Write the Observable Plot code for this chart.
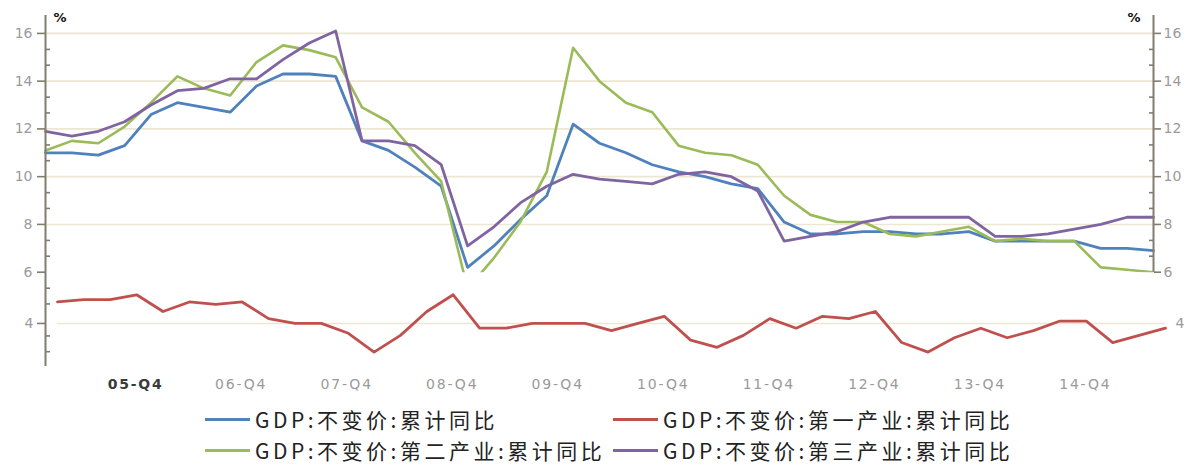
<!DOCTYPE html>
<html><head><meta charset="utf-8">
<script src="https://cdn.jsdelivr.net/npm/d3@7"></script>
<script src="https://cdn.jsdelivr.net/npm/@observablehq/plot@0.6"></script>
<style>
body{margin:0;background:#fff;}
#chart svg{display:block;}
#legend{position:relative;width:1197px;height:74px;font-family:"Noto Sans CJK SC","Noto Sans",sans-serif;font-size:21px;color:#222;}
.item{position:absolute;display:flex;align-items:center;white-space:nowrap;letter-spacing:3.5px;height:26px;}
.sw{width:45px;height:3px;margin-right:5px;}
</style></head><body>
<div id="chart"></div>
<div id="legend"></div>
<script>
// ---- data ----
const quarters = ["05-Q1","05-Q2","05-Q3","05-Q4","06-Q1","06-Q2","06-Q3","06-Q4","07-Q1","07-Q2","07-Q3","07-Q4",
  "08-Q1","08-Q2","08-Q3","08-Q4","09-Q1","09-Q2","09-Q3","09-Q4","10-Q1","10-Q2","10-Q3","10-Q4",
  "11-Q1","11-Q2","11-Q3","11-Q4","12-Q1","12-Q2","12-Q3","12-Q4","13-Q1","13-Q2","13-Q3","13-Q4",
  "14-Q1","14-Q2","14-Q3","14-Q4","15-Q1","15-Q2","15-Q3"];
const seriesNames = ["GDP:不变价:累计同比","GDP:不变价:第一产业:累计同比","GDP:不变价:第二产业:累计同比","GDP:不变价:第三产业:累计同比"];
const seriesColors = ["#4f81bd","#c0504d","#9bbb59","#8064a2"];
const gdpTotal = [11.0,11.0,10.9,11.3, 12.6,13.1,12.9,12.7, 13.8,14.3,14.3,14.2, 11.5,11.1,10.4,9.6,
  6.2,7.1,8.2,9.2, 12.2,11.4,11.0,10.5, 10.2,10.0,9.7,9.5, 8.1,7.6,7.6,7.7, 7.7,7.6,7.6,7.7, 7.3,7.3,7.3,7.3, 7.0,7.0,6.9];
const gdpPrimary = [4.9,5.0,5.0,5.2, 4.5,4.9,4.8,4.9, 4.2,4.0,4.0,3.6, 2.8,3.5,4.5,5.2,
  3.8,3.8,4.0,4.0, 4.0,3.7,4.0,4.3, 3.3,3.0,3.5,4.2, 3.8,4.3,4.2,4.5, 3.2,2.8,3.4,3.8, 3.4,3.7,4.1,4.1, 3.2,3.5,3.8];
const gdpSecondary = [11.1,11.5,11.4,12.1, 13.1,14.2,13.7,13.4, 14.8,15.5,15.3,15.0, 12.9,12.3,11.0,9.8,
  5.3,6.6,8.1,10.2, 15.4,14.0,13.1,12.7, 11.3,11.0,10.9,10.5, 9.2,8.4,8.1,8.1, 7.6,7.5,7.7,7.9, 7.3,7.4,7.3,7.3, 6.2,6.1,6.0];
const gdpTertiary = [11.9,11.7,11.9,12.3, 13.0,13.6,13.7,14.1, 14.1,14.9,15.6,16.1, 11.5,11.5,11.3,10.5,
  7.1,7.9,8.9,9.6, 10.1,9.9,9.8,9.7, 10.1,10.2,10.0,9.4, 7.3,7.5,7.7,8.1, 8.3,8.3,8.3,8.3, 7.5,7.5,7.6,7.8, 8.0,8.3,8.3];
const xTickLabels = ["05-Q4","06-Q4","07-Q4","08-Q4","09-Q4","10-Q4","11-Q4","12-Q4","13-Q4","14-Q4"];
const yMajorUpper = [6,8,10,12,14,16];
const yMajorLower = [4];
const yMinorUpper = [6.67,7.33,8.67,9.33,10.67,11.33,12.67,13.33,14.67,15.33];
const yMinorLower = [2.67,3.33,4.67,5.33];
const yGridUpper = [8,10,12,14,16];
const unitLabel = "%";
const Y_MIN = 2.05, Y_MAX = 16.75, BREAK = 6;

// ---- chart ----
const W = 1197, H = 400;
const last = quarters.length - 1;
const rows = vals => vals.map((v, i) => ({i, v}));
const xTickIdx = xTickLabels.map(l => quarters.indexOf(l));
const axisStroke = "#827d6f", labelFill = "#9a9a9a", gridStroke = "#ece6d3";
const LOWER_DX = 12, LOWER_DY = 3.5;

const chart = Plot.plot({
  width: W, height: H,
  marginLeft: 45, marginRight: 44, marginTop: 15, marginBottom: 34,
  style: {fontFamily: "'DejaVu Sans', sans-serif", background: "#fff", overflow: "visible"},
  x: {domain: [0, last]},
  y: {domain: [Y_MIN, Y_MAX]},
  marks: [
    Plot.gridY(yGridUpper, {stroke: gridStroke, strokeOpacity: 1, strokeWidth: 1.6}),
    Plot.ruleY(yMajorLower, {x1: 0, x2: last, dx: LOWER_DX, dy: LOWER_DY, stroke: gridStroke, strokeWidth: 1.6}),
    Plot.line(rows(gdpTotal), {x: "i", y: "v", stroke: seriesColors[0], strokeWidth: 2.8}),
    Plot.line(rows(gdpSecondary), {x: "i", y: "v", stroke: seriesColors[2], strokeWidth: 2.6}),
    Plot.line(rows(gdpTertiary), {x: "i", y: "v", stroke: seriesColors[3], strokeWidth: 2.8}),
    Plot.line(rows(gdpPrimary), {x: "i", y: "v", dx: LOWER_DX, dy: LOWER_DY, stroke: seriesColors[1], strokeWidth: 2.8}),
    Plot.ruleX([0], {y1: Y_MIN, y2: Y_MAX, stroke: axisStroke, strokeWidth: 2}),
    Plot.ruleX([last], {y1: BREAK, y2: Y_MAX, stroke: axisStroke, strokeWidth: 2}),
    Plot.axisY(yMajorUpper, {anchor: "left", tickSize: 8, tickPadding: 5, stroke: axisStroke, strokeWidth: 1.6, fill: labelFill, fontSize: 14, label: null}),
    Plot.axisY(yMajorLower, {anchor: "left", tickSize: 8, tickPadding: 4, dy: LOWER_DY, stroke: axisStroke, strokeWidth: 1.6, fill: labelFill, fontSize: 14, label: null, tickFormat: d => d}),
    Plot.axisY(yMinorUpper.concat(yMinorLower), {anchor: "left", tickSize: 5, dx: 5, stroke: axisStroke, strokeWidth: 1.6, tickFormat: () => "", label: null}),
    Plot.axisY(yMajorUpper, {anchor: "right", tickSize: 7, tickPadding: 3, stroke: axisStroke, strokeWidth: 1.6, fill: labelFill, fontSize: 14, label: null}),
    Plot.axisY(yMinorUpper, {anchor: "right", tickSize: 5, dx: -5, stroke: axisStroke, strokeWidth: 1.6, tickFormat: () => "", label: null}),
    Plot.axisY(yMajorLower, {anchor: "right", tickSize: 0, tickPadding: 22, dy: LOWER_DY, fill: labelFill, fontSize: 14, label: null}),
    Plot.axisX(xTickIdx.slice(0, 1), {tickSize: 0, tickPadding: 13, dx: 11, tickFormat: i => quarters[i], fill: "#3a3a3a", fontWeight: "bold", fontSize: 14, label: null}),
    Plot.axisX(xTickIdx.slice(1), {tickSize: 0, tickPadding: 13, dx: 11, tickFormat: i => quarters[i], fill: labelFill, fontSize: 14, label: null}),
    Plot.text([unitLabel], {frameAnchor: "top-left", dx: 8, dy: -3, fontWeight: "bold", fontSize: 13, fill: "#111"}),
    Plot.text([unitLabel], {frameAnchor: "top-right", dx: -13, dy: -3, fontWeight: "bold", fontSize: 13, fill: "#111"})
  ]
});
document.getElementById("chart").appendChild(chart);

// clip the upper-panel series at the axis break
const yBreak = chart.scale("y").apply(BREAK);
const svg = d3.select(chart);
svg.insert("defs", ":first-child").append("clipPath").attr("id", "upperClip")
  .append("rect").attr("x", 0).attr("y", 0).attr("width", W).attr("height", yBreak);
svg.selectAll('g[aria-label="line"]').filter((d, i) => i < 3).attr("clip-path", "url(#upperClip)");
svg.selectAll('g[aria-label="x-axis tick label"] text').attr("letter-spacing", "1.8px");

// legend
const legendPos = [[205, 6], [613, 6], [205, 37], [613, 37]];
const legendOrder = [0, 1, 2, 3];
const legend = d3.select("#legend");
legendOrder.forEach((s, k) => {
  const it = legend.append("div").attr("class", "item")
    .style("left", legendPos[k][0] + "px").style("top", legendPos[k][1] + "px");
  it.append("div").attr("class", "sw").style("background", seriesColors[s]);
  it.append("span").text(seriesNames[s]);
});
</script>
</body></html>
